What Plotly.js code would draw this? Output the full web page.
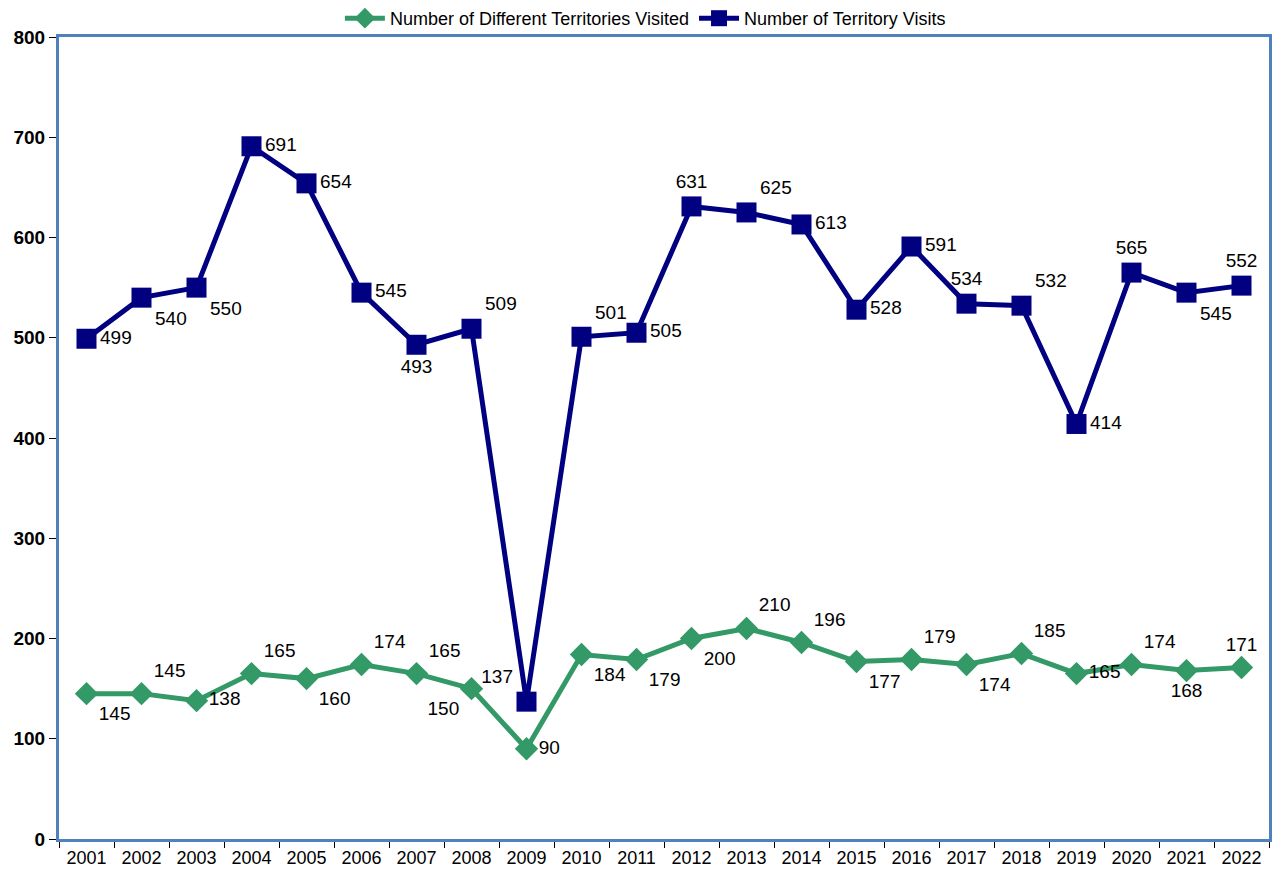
<!DOCTYPE html>
<html>
<head>
<meta charset="utf-8">
<script src="https://cdn.plot.ly/plotly-3.0.1.min.js"></script>
<style>html,body{margin:0;padding:0;background:#fff;}#chart{width:1278px;height:873px;}</style>
</head>
<body>
<div id="chart"></div>
<script>
const years = ['2001','2002','2003','2004','2005','2006','2007','2008','2009','2010','2011','2012','2013','2014','2015','2016','2017','2018','2019','2020','2021','2022'];
const differentTerritories = [145,145,138,165,160,174,165,150,90,184,179,200,210,196,177,179,174,185,165,174,168,171];
const territoryVisits = [499,540,550,691,654,545,493,509,137,501,505,631,625,613,528,591,534,532,414,565,545,552];
const yTicks = [0,100,200,300,400,500,600,700,800];

const greenLabelPos = ['bottom right','top right','middle right','top right','bottom right','top right','top right','bottom left','middle right','bottom right','bottom right','bottom right','top right','top right','bottom right','top right','bottom right','top right','middle right','top right','bottom center','top center'];
const blueLabelPos = ['middle right','bottom right','bottom right','middle right','middle right','middle right','bottom center','top right','top left','top right','middle right','top center','top right','middle right','middle right','middle right','top center','top right','middle right','top center','bottom right','top center'];

const FONT = 'Liberation Sans, Arial, sans-serif';
const traces = [
  {
    x: years, y: differentTerritories, type: 'scatter', mode: 'lines+markers+text',
    name: 'Number of Different Territories Visited',
    line: {color: '#339966', width: 5},
    marker: {symbol: 'diamond', size: 18, color: '#339966'},
    text: differentTerritories.map(String), textposition: greenLabelPos,
    textfont: {family: FONT, size: 19, color: '#000'},
    cliponaxis: false
  },
  {
    x: years, y: territoryVisits, type: 'scatter', mode: 'lines+markers+text',
    name: 'Number of Territory Visits',
    line: {color: '#000080', width: 5},
    marker: {symbol: 'square', size: 20, color: '#000080'},
    text: territoryVisits.map(String), textposition: blueLabelPos,
    textfont: {family: FONT, size: 19, color: '#000'},
    cliponaxis: false
  }
];

const layout = {
  width: 1278, height: 873,
  margin: {l: 59, r: 9, t: 36, b: 34},
  paper_bgcolor: '#fff', plot_bgcolor: '#fff',
  font: {family: FONT, color: '#000'},
  showlegend: true,
  legend: {orientation: 'h', xref: 'container', yref: 'container', x: 0.505, xanchor: 'center', y: 1, yanchor: 'top',
           font: {size: 18}, traceorder: 'normal', itemwidth: 40, tracegroupgap: 0,
           bgcolor: 'rgba(0,0,0,0)'},
  xaxis: {
    type: 'category', categoryorder: 'array', categoryarray: years,
    range: [-0.5, years.length - 0.5],
    showline: true, mirror: true, linecolor: '#4f81bd', linewidth: 3,
    ticks: 'outside', tickson: 'boundaries', ticklen: 6, tickcolor: '#000', tickwidth: 1,
    showgrid: false, zeroline: false,
    tickfont: {size: 18}
  },
  yaxis: {
    range: [0, 800], tickvals: yTicks, ticktext: yTicks.map(String),
    showline: true, mirror: true, linecolor: '#4f81bd', linewidth: 3,
    ticks: 'outside', ticklen: 7, tickcolor: '#000', tickwidth: 1,
    showgrid: false, zeroline: false,
    tickfont: {size: 19, weight: 'bold'}
  }
};

Plotly.newPlot('chart', traces, layout, {displayModeBar: false, staticPlot: true});
</script>
</body>
</html>
